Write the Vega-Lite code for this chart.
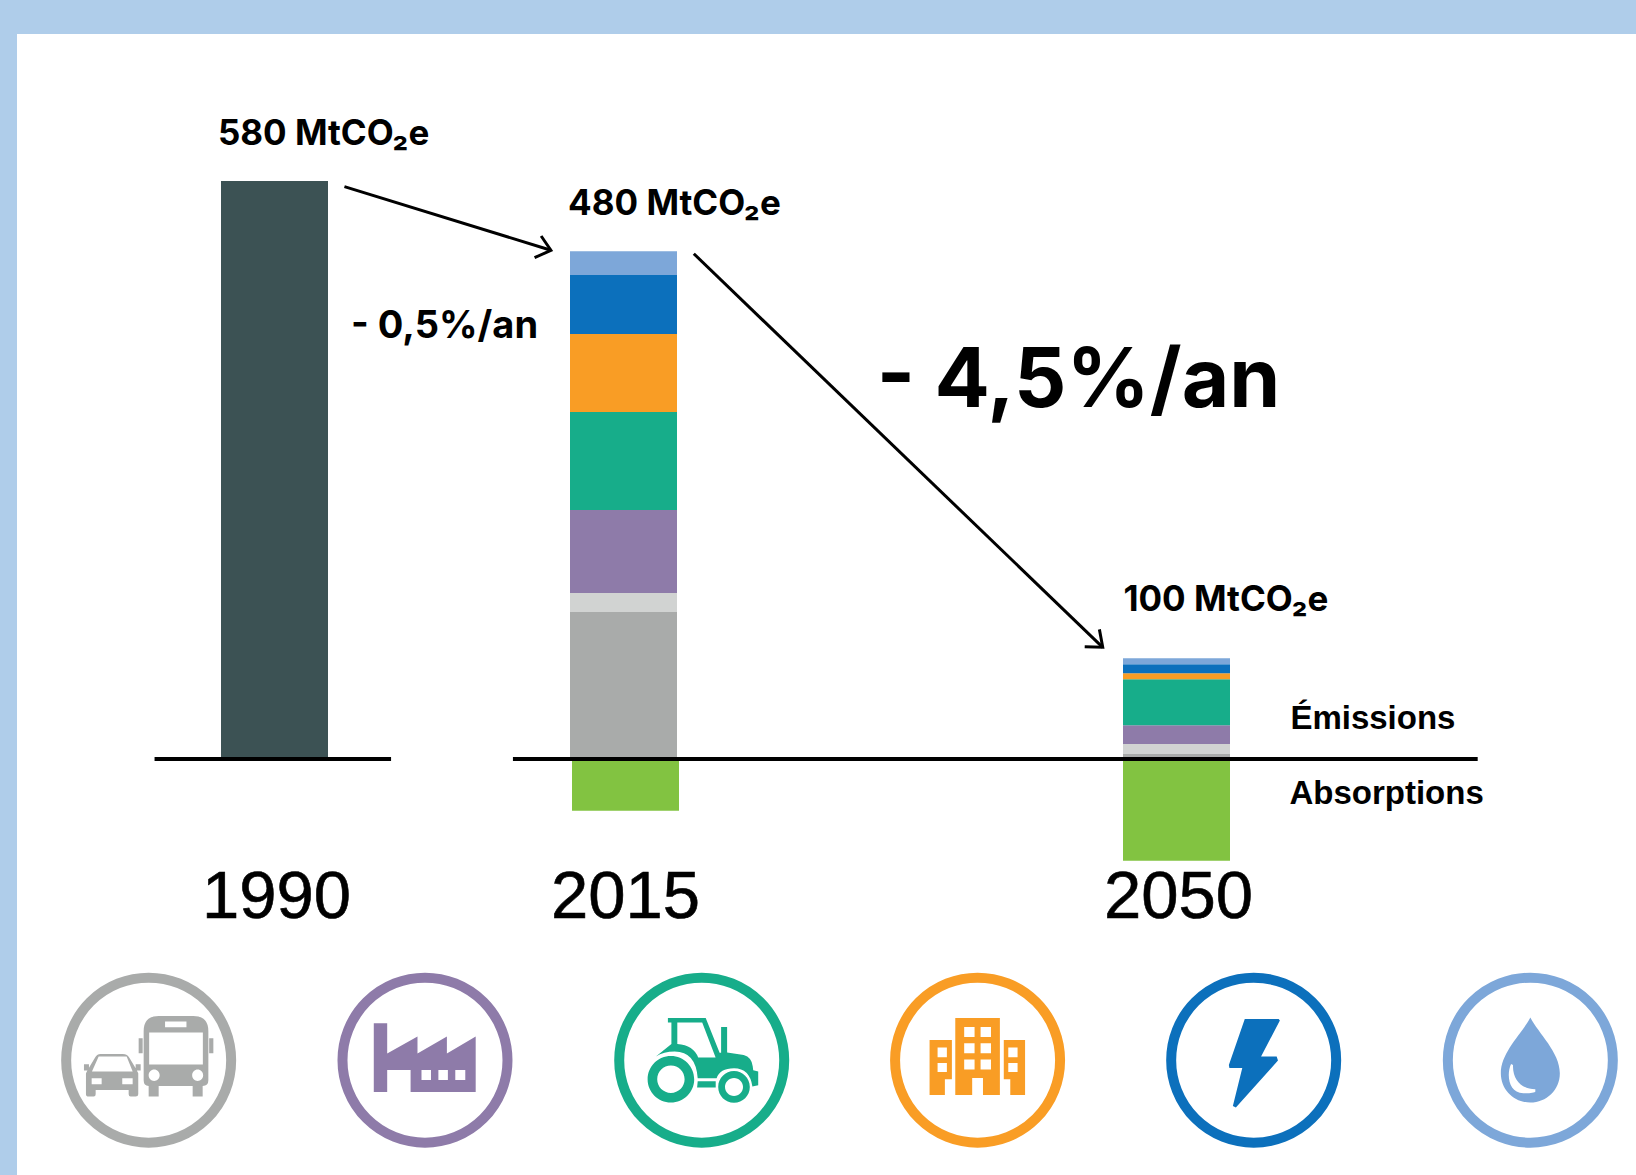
{
"$schema":"https://vega.github.io/schema/vega-lite/v6.json",
"width":1619,"height":1141,
"autosize":{"type":"none"},
"padding":{"left":17,"top":34,"right":0,"bottom":0},
"background":"#AFCDEA",
"view":{"fill":"#FFFFFF","stroke":null},
"config":{"text":{"font":"Liberation Sans"}},
"datasets":{
"bars":[
{"year":1990,"sector":"Total 1990","value":580,"o":1},
{"year":2015,"sector":"Transports","value":147.5,"o":1},
{"year":2015,"sector":"Procédés","value":19,"o":2},
{"year":2015,"sector":"Industrie","value":83.3,"o":3},
{"year":2015,"sector":"Agriculture","value":98.3,"o":4},
{"year":2015,"sector":"Bâtiment","value":78.3,"o":5},
{"year":2015,"sector":"Énergie","value":59.2,"o":6},
{"year":2015,"sector":"Déchets","value":24,"o":7},
{"year":2015,"sector":"Absorptions","value":-52,"o":1},
{"year":2050,"sector":"Transports","value":5,"o":1},
{"year":2050,"sector":"Procédés","value":10,"o":2},
{"year":2050,"sector":"Industrie","value":19,"o":3},
{"year":2050,"sector":"Agriculture","value":46,"o":4},
{"year":2050,"sector":"Bâtiment","value":6,"o":5},
{"year":2050,"sector":"Énergie","value":9,"o":6},
{"year":2050,"sector":"Déchets","value":6,"o":7},
{"year":2050,"sector":"Absorptions","value":-102,"o":1}
],
"icons":[
{"sector":"Transports","year":1980.82,"value":-302.2},
{"sector":"Industrie","year":2000.78,"value":-302.2},
{"sector":"Agriculture","year":2019.95,"value":-302.2},
{"sector":"Bâtiment","year":2037.41,"value":-302.2},
{"sector":"Énergie","year":2054.94,"value":-302.2},
{"sector":"Déchets","year":2072.65,"value":-302.2}
],
"arrows":[
{"id":"a1","i":1,"year":1995.01,"value":574.3},
{"id":"a1","i":2,"year":2009.80,"value":510.5},
{"id":"a1h","i":1,"year":2009.10,"value":524.8},
{"id":"a1h","i":2,"year":2009.80,"value":510.5},
{"id":"a1h","i":3,"year":2008.63,"value":503.0},
{"id":"a2","i":1,"year":2019.45,"value":507.0},
{"id":"a2","i":2,"year":2045.33,"value":112.1},
{"id":"a2h","i":1,"year":2045.12,"value":130.1},
{"id":"a2h","i":2,"year":2045.33,"value":112.1},
{"id":"a2h","i":3,"year":2044.19,"value":112.7}
],
"labels":[
{"t":"580 MtCO₂e","year":1985.87,"value":616.1,"s":35},
{"t":"480 MtCO₂e","year":2011.03,"value":545.9,"s":35},
{"t":"100 MtCO₂e","year":2046.64,"value":148.8,"s":35},
{"t":"- 0,5%/an","year":1995.48,"value":422.5,"s":38},
{"t":"- 4,5%/an","year":2031.03,"value":353.2,"s":82}
],
"labels2":[
{"t":"Émissions","year":2057.29,"value":29.8,"s":33},
{"t":"Absorptions","year":2057.23,"value":-45.5,"s":33}
],
"years":[
{"t":"1990","year":1990,"value":-159.5},
{"t":"2015","year":2015,"value":-159.5},
{"t":"2050","year":2050,"value":-159.5}
],
"zero":[
{"from":1981.25,"to":1998.35},
{"from":2007.08,"to":2069.28}
]
},
"layer":[
{"data":{"name":"bars"},
 "transform":[{"filter":"!(datum.year==2015 && datum.sector=='Absorptions')"}],
 "mark":{"type":"bar","size":107},
 "encoding":{
  "x":{"field":"year","type":"quantitative","scale":{"domain":[1971.55,1990,2015,2050,2079.08],"range":[0,257.5,606.5,1159.5,1619],"nice":false,"zero":false},"axis":null},
  "y":{"field":"value","type":"quantitative","stack":"zero","scale":{"domain":[-417.4,727.5],"nice":false,"zero":false},"axis":null},
  "order":{"field":"o","type":"quantitative"},
  "color":{"field":"sector","type":"nominal","legend":null,"scale":{"domain":["Total 1990","Transports","Procédés","Industrie","Agriculture","Bâtiment","Énergie","Déchets","Absorptions"],"range":["#3C5254","#A9ABAA","#D1D3D2","#8E7BA9","#17AD8A","#F99D25","#0C70BC","#7DA7D9","#82C341"]}}
 }},
{"data":{"name":"bars"},
 "transform":[{"filter":"datum.year==2015 && datum.sector=='Absorptions'"}],
 "mark":{"type":"bar","size":107,"xOffset":2},
 "encoding":{
  "x":{"field":"year","type":"quantitative"},
  "y":{"field":"value","type":"quantitative","stack":"zero"},
  "color":{"field":"sector","type":"nominal","legend":null}
 }},
{"data":{"name":"zero"},
 "mark":{"type":"rule","color":"#000000","strokeWidth":4},
 "encoding":{
  "x":{"field":"from","type":"quantitative"},
  "x2":{"field":"to"},
  "y":{"datum":0,"type":"quantitative"}
 }},
{"data":{"name":"arrows"},
 "mark":{"type":"line","color":"#000000","strokeWidth":3,"strokeJoin":"miter"},
 "encoding":{
  "x":{"field":"year","type":"quantitative"},
  "y":{"field":"value","type":"quantitative"},
  "detail":{"field":"id"},
  "order":{"field":"i","type":"quantitative"}
 }},
{"data":{"name":"labels"},
 "mark":{"type":"text","align":"left","baseline":"alphabetic","fontWeight":"bold","font":"Inter","color":"#000000"},
 "encoding":{
  "x":{"field":"year","type":"quantitative"},
  "y":{"field":"value","type":"quantitative"},
  "text":{"field":"t"},
  "size":{"field":"s","type":"quantitative","scale":null,"legend":null}
 }},
{"data":{"name":"labels2"},
 "mark":{"type":"text","align":"left","baseline":"alphabetic","fontWeight":"bold","color":"#000000"},
 "encoding":{
  "x":{"field":"year","type":"quantitative"},
  "y":{"field":"value","type":"quantitative"},
  "text":{"field":"t"},
  "size":{"field":"s","type":"quantitative","scale":null,"legend":null}
 }},
{"data":{"name":"years"},
 "mark":{"type":"text","align":"center","baseline":"alphabetic","fontSize":67,"dx":2,"color":"#000000","stroke":"#000000","strokeWidth":0.6},
 "encoding":{
  "x":{"field":"year","type":"quantitative"},
  "y":{"field":"value","type":"quantitative"},
  "text":{"field":"t"}
 }},
{"data":{"name":"icons"},
 "mark":{"type":"point","filled":false,"opacity":1,"strokeWidth":10,"size":27225,"shape":"circle"},
 "encoding":{
  "x":{"field":"year","type":"quantitative"},
  "y":{"field":"value","type":"quantitative"},
  "stroke":{"field":"sector","type":"nominal","legend":null,"scale":{"domain":["Transports","Industrie","Agriculture","Bâtiment","Énergie","Déchets"],"range":["#A9ABAA","#8E7BA9","#17AD8A","#F99D25","#0C70BC","#7DA7D9"]}}
 }},
{"data":{"name":"icons"},
 "mark":{"type":"point","filled":true,"opacity":1,"size":4,"strokeWidth":0},
 "encoding":{
  "x":{"field":"year","type":"quantitative"},
  "y":{"field":"value","type":"quantitative"},
  "fill":{"field":"sector","type":"nominal","legend":null,"scale":{"domain":["Transports","Industrie","Agriculture","Bâtiment","Énergie","Déchets"],"range":["#A9ABAA","#8E7BA9","#17AD8A","#F99D25","#0C70BC","#7DA7D9"]}},
  "shape":{"field":"sector","type":"nominal","legend":null,"scale":{"domain":["Transports","Industrie","Agriculture","Bâtiment","Énergie","Déchets"],"range":[
"M-5 -29 Q-5 -44.3 10 -44.3 H44.7 Q59.7 -44.3 59.7 -29 V20 Q59.7 25.7 54 25.7 V36.3 H44 V25.7 H10 V36.3 H0 V25.7 Q-5 25.7 -5 20 Z M0.5 -27.7 V4.3 H54.2 V-27.7 Z M16.4 -38.7 V-33 H37.8 V-38.7 Z M0 15 a5.5 5.7 0 1 0 11 0 a5.5 5.7 0 1 0 -11 0 Z M43.5 15 a5.5 5.7 0 1 0 11 0 a5.5 5.7 0 1 0 -11 0 Z M-10 -22 H-6 V-7 H-10 Z M60.5 -22 H64.7 V-7 H60.5 Z M-62.7 13 L-60 8 L-54 -2 Q-52 -6.3 -48 -6.3 H-26 Q-21 -6.3 -19 -2 L-13 8 L-10.4 13 V34 Q-10.4 36.3 -13 36.3 H-18 Q-20 36.3 -20 34 V29.7 H-53 V34 Q-53 36.3 -55 36.3 H-60 Q-62.7 36.3 -62.7 34 Z M-50 -3.7 L-56.7 11.3 H-16 L-22 -3.7 Z M-57 18 V24 H-47 V18 Z M-26.4 18 V24 H-16 V18 Z M-64.7 4 H-59.7 V10.3 H-64.7 Z M-13 4 H-8 V10.3 H-13 Z",
"M-51.2 -37 H-37.8 V-6.7 L-7.5 -23.7 V-6.7 L21.9 -23.7 V-6.7 L50.7 -23.7 V31.7 H-14.4 V9.7 H-37.8 V31.7 H-51.2 Z M-3.5 9.7 V19.7 H6 V9.7 Z M13.4 9.7 V19.7 H22.9 V9.7 Z M30.3 9.7 V19.7 H40.3 V9.7 Z",
"M-33.8 -42.3 H4 L17.9 -7.5 H19.4 V-33.3 H25.4 V-7.7 L42 -5.3 Q50 -3 51 6 L51.5 10 L56.5 11.3 V25 L50.7 26.3 Q48 8 32.3 8 Q18 8 14.9 18 H-4 Q-6 -8.7 -27 -8.7 Q-38 -8.7 -45.8 -3.7 L-30.3 -16.3 V-37.7 H-33.8 Z M-24.4 -37.7 V-16.3 Q-8 -15 -3.5 -2.7 H13.9 L0.5 -37.7 Z M-4 21 H14 V27.3 H-4.6 Z M-54.1 19 a23.3 23.3 0 1 1 46.6 0 a23.3 23.3 0 1 1 -46.6 0 Z M-44.5 19 a13.7 13.7 0 1 0 27.4 0 a13.7 13.7 0 1 0 -27.4 0 Z M16.5 26.7 a15.8 15.8 0 1 1 31.6 0 a15.8 15.8 0 1 1 -31.6 0 Z M23.3 26.7 a9 9 0 1 0 18 0 a9 9 0 1 0 -18 0 Z",
"M-22.3 -42.3 H22.3 V34.7 H5.4 V17.7 H-5.4 V34.7 H-22.3 Z M-13.4 -33.3 V-23.3 H-3 V-33.3 Z M3 -33.3 V-23.3 H13.4 V-33.3 Z M-13.4 -17 V-7 H-3 V-17 Z M3 -17 V-7 H13.4 V-17 Z M-13.4 -0.7 V9.3 H-3 V-0.7 Z M3 -0.7 V9.3 H13.4 V-0.7 Z M-48 -20.3 H-25.7 V19 H-32.7 V34.7 H-48 Z M-40 -12.7 V-3 H-30.7 V-12.7 Z M-40 2.7 V11.7 H-30.7 V2.7 Z M26.2 -20.3 H47.5 V34.7 H32.7 V19 H26.2 Z M30.7 -12.7 V-3 H40 V-12.7 Z M30.7 2.7 V11.7 H40 V2.7 Z",
"M-8.9 -41.3 H25 L26.2 -39.7 L7.4 -3.7 H23 L24.3 0.3 L-17.8 47.3 L-20.8 45.7 L-11.4 7.7 H-24.3 L-24.8 4.7 Z",
"M0 -42.7 C8 -27 29.5 -8 29.5 13 C29.5 30 16 42.3 0 42.3 C-16 42.3 -29.5 30 -29.5 13 C-29.5 -8 -8 -27 0 -42.7 Z M-19.3 3.7 C-24 14 -22 33 -7 33 C-2 33 3 33 5 31.5 L5 29 C-8 29 -18 20 -17.3 4.7 Z"
]}}
 }}
]
}
